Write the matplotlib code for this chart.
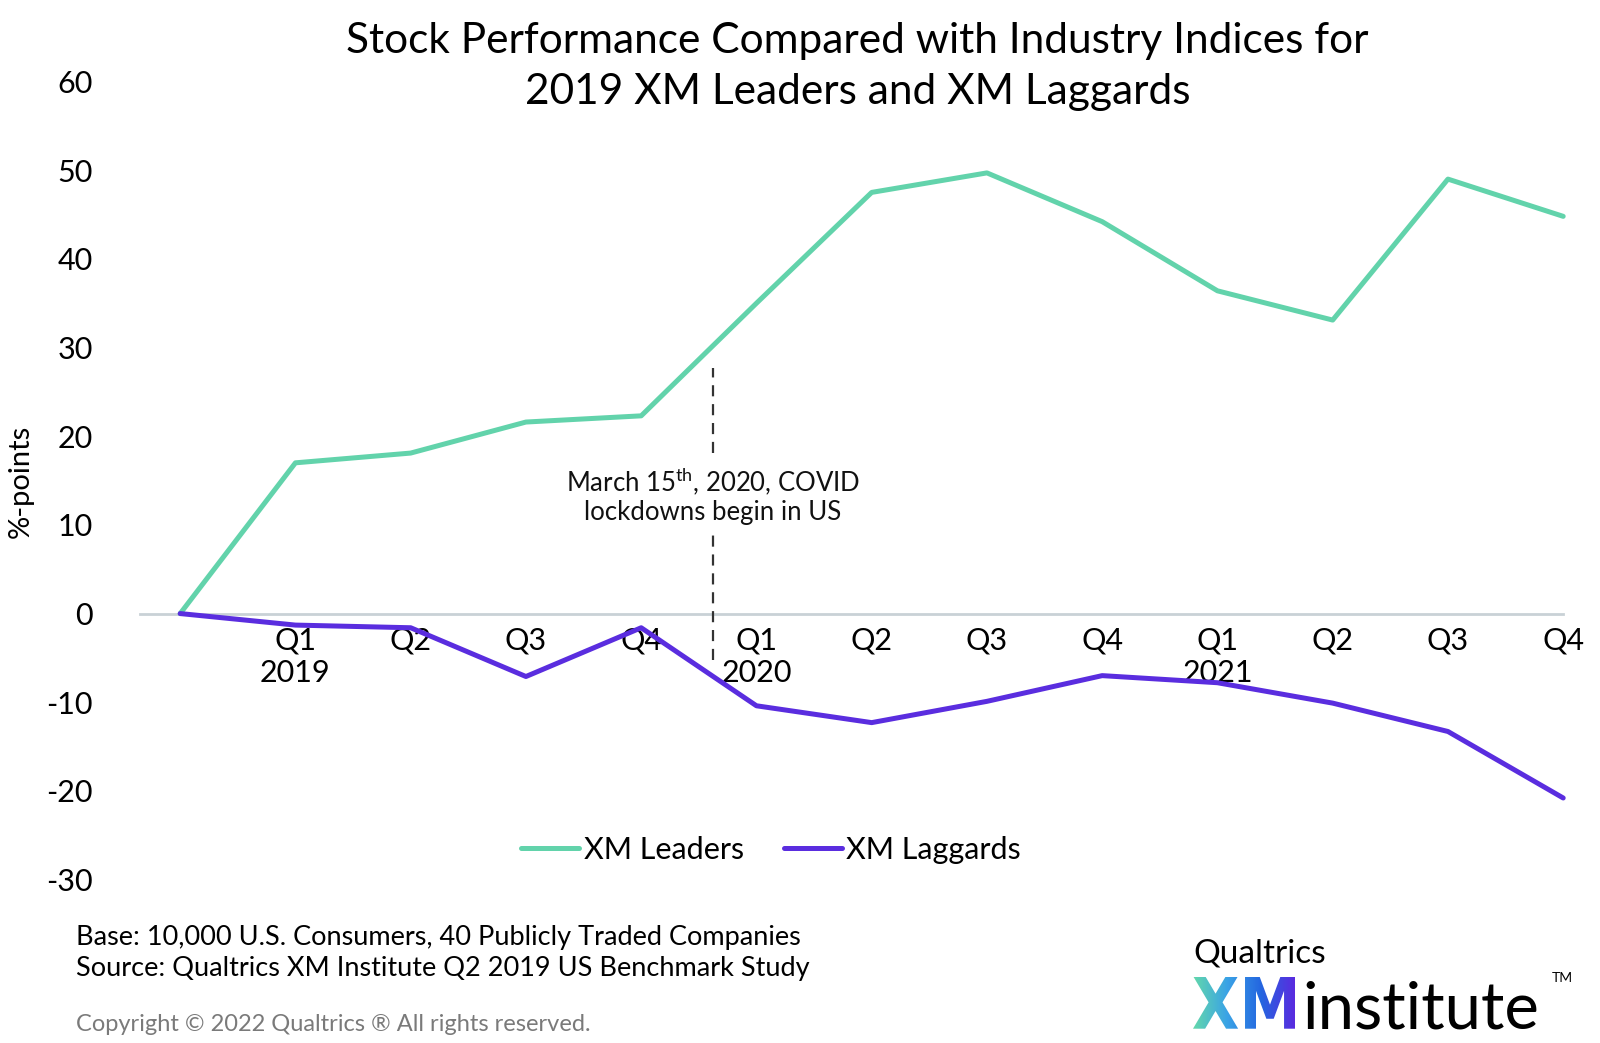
import numpy as np
import matplotlib
matplotlib.use("Agg")
import matplotlib.pyplot as plt
from matplotlib.textpath import TextPath
from matplotlib.patches import PathPatch
from matplotlib.font_manager import FontProperties
from matplotlib.colors import LinearSegmentedColormap
from matplotlib.transforms import Affine2D

plt.rcParams["font.family"] = ["Lato", "DejaVu Sans"]
plt.rcParams["mathtext.fontset"] = "custom"
plt.rcParams["mathtext.rm"] = "Lato"
plt.rcParams["axes.unicode_minus"] = False

# data
quarters = ["Q1\n2019", "Q2", "Q3", "Q4", "Q1\n2020", "Q2", "Q3", "Q4",
            "Q1\n2021", "Q2", "Q3", "Q4"]
leaders = [0, 17.0, 18.1, 21.6, 22.3, 35.0, 47.5, 49.7, 44.2, 36.4, 33.1, 49.0, 44.8]
laggards = [0, -1.3, -1.6, -7.1, -1.6, -10.4, -12.3, -9.9, -7.0, -7.8, -10.1, -13.3, -20.8]
covid_x = 4.62

green = "#62d3ab"
purple = "#5a2ddf"

fig = plt.figure(figsize=(16, 10.43), dpi=100)
ax = fig.add_axes([0.0874, 0.1567, 0.977 - 0.0874, 0.9218 - 0.1567])

x = np.arange(len(leaders))
ax.plot(x, leaders, color=green, lw=3.6, label="XM Leaders",
        solid_capstyle="round", solid_joinstyle="round", clip_on=False, zorder=3)
ax.plot(x, laggards, color=purple, lw=3.6, label="XM Laggards",
        solid_capstyle="round", solid_joinstyle="round", clip_on=False, zorder=3)

# covid marker
ax.plot([covid_x, covid_x], [18.1, 27.7], color="#333333", lw=1.6, ls=(0, (5, 3.5)))
ax.plot([covid_x, covid_x], [-5.2, 9.5], color="#333333", lw=1.6, ls=(0, (5, 3.5)))
ax.text(covid_x, 13.4, "March 15$^{\\mathrm{th}}$, 2020, COVID\nlockdowns begin in US",
        ha="center", va="center", fontsize=18.5, linespacing=1.15, color="#111111")

ax.set_xlim(-0.35, 12)
ax.set_ylim(-30, 60)
ax.set_yticks(range(-30, 61, 10))
ax.set_xticks(range(1, 13))
ax.set_xticklabels(quarters)
plt.setp(ax.get_xticklabels(), linespacing=1.1)

for s in ["top", "right", "left"]:
    ax.spines[s].set_visible(False)
ax.spines["bottom"].set_position(("data", 0))
ax.spines["bottom"].set_color("#c9d1d6")
ax.spines["bottom"].set_linewidth(2)
ax.spines["bottom"].set_zorder(1)
ax.tick_params(axis="x", length=0, pad=9, labelsize=22)
ax.tick_params(axis="y", length=0, pad=34, labelsize=22)

ax.legend(loc="center", bbox_to_anchor=(0.482, 0.185), bbox_transform=fig.transFigure,
          ncol=2, frameon=False, fontsize=22, handlelength=1.9, handletextpad=0.15,
          columnspacing=1.3)

fig.text(0.0128, 0.538, "%-points", rotation=90, ha="center", va="center", fontsize=21)
fig.text(0.536, 0.9365, "Stock Performance Compared with Industry Indices for\n2019 XM Leaders and XM Laggards",
         ha="center", va="center", fontsize=30.5, linespacing=1.42)

fig.text(0.0478, 0.1007, "Base: 10,000 U.S. Consumers, 40 Publicly Traded Companies",
         va="center", fontsize=19.5)
fig.text(0.0478, 0.0710, "Source: Qualtrics XM Institute Q2 2019 US Benchmark Study",
         va="center", fontsize=19.5)
fig.text(0.0478, 0.0177, "Copyright \u00a9 2022 Qualtrics \u00ae All rights reserved.",
         va="center", fontsize=17, color="#7a7a7a")

# logo
fig.text(1193 / 1600, 1 - 962.7 / 1043, "Qualtrics", fontsize=24, va="baseline")
fig.text(1302 / 1600, 1 - 1028.7 / 1043, "institute", fontsize=47, fontweight="normal",
         va="baseline")
fig.text(1552 / 1600, 1 - 972 / 1043, "TM", fontsize=10, va="top")

lax = fig.add_axes([0, 0, 1, 1], zorder=-1)
lax.set_xlim(0, 1600)
lax.set_ylim(0, 1043)
lax.axis("off")
tp = TextPath((0, 0), "XM", size=100, prop=FontProperties(family="DejaVu Sans", weight="bold"))
bb = tp.get_extents()
x0, x1, y0, y1 = 1193, 1295, 1043 - 1028.7, 1043 - 977
tr = Affine2D().translate(-bb.x0, -bb.y0).scale((x1 - x0) / bb.width, (y1 - y0) / bb.height).translate(x0, y0)
patch = PathPatch(tr.transform_path(tp), facecolor="none", edgecolor="none",
                  transform=lax.transData)
lax.add_patch(patch)
cmap = LinearSegmentedColormap.from_list("xm", ["#63d8ab", "#3aa3e6", "#2466e0", "#5a2bdf"])
im = lax.imshow(np.linspace(0, 1, 256)[None, :], cmap=cmap, extent=[x0, x1, y0, y1],
                aspect="auto", origin="lower")
im.set_clip_path(patch)

fig.savefig("out.png", dpi=100)
